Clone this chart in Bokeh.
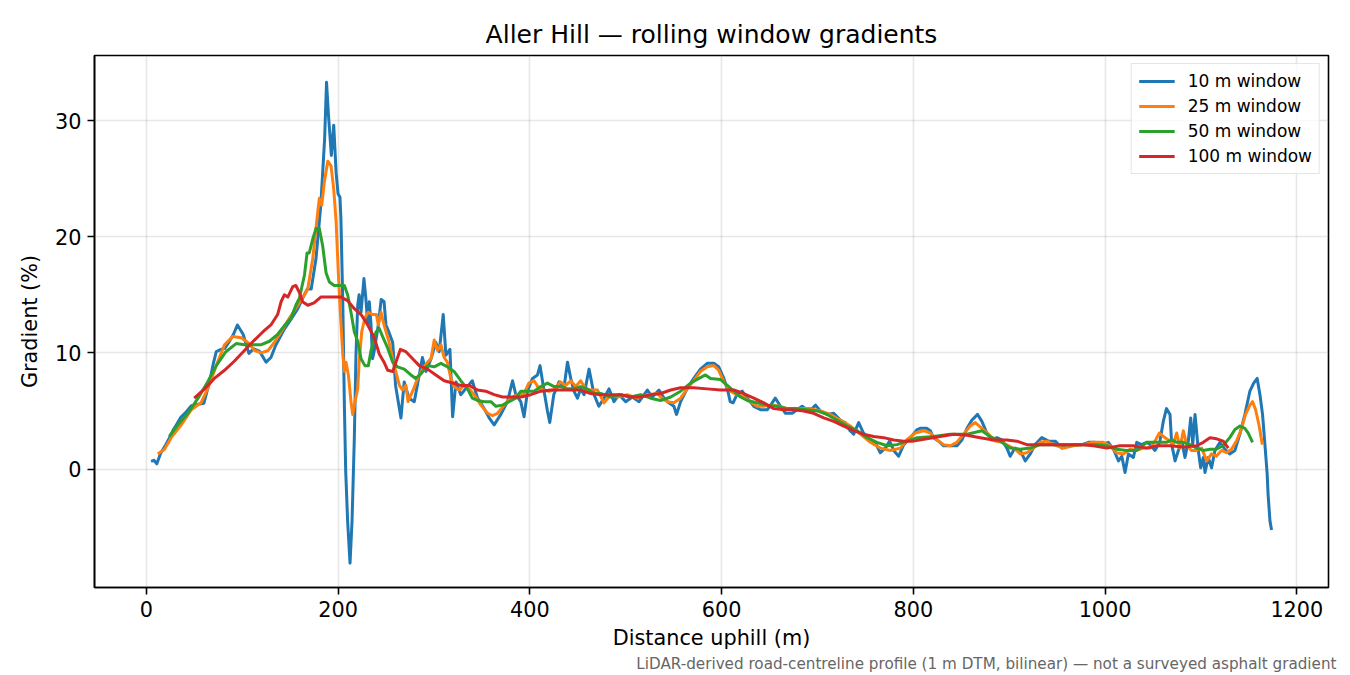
from bokeh.plotting import figure
from bokeh.models import Range1d, FixedTicker, Legend, LegendItem, Title
from bokeh.embed import file_html
from bokeh.resources import INLINE

# distances (m) and gradients (%)
d10 = [5, 8, 11, 15, 20, 24, 28, 31, 36, 41, 47, 53, 60, 66, 70, 73, 78, 82, 86, 91,
       95, 101, 107, 112, 118, 125, 130, 135, 144, 151, 158, 163, 168, 172, 177, 182, 186, 188, 190, 193,
       195.5, 198, 200, 202, 203, 205, 206.6, 208, 210, 212.5, 214.6, 217, 218.7, 220.5, 222, 224, 227, 229, 231, 232.6,
       234.4, 236, 238, 242, 245, 248, 250, 253, 257, 260, 265.6, 269, 274, 279.5, 284.7, 288, 291.7, 297, 302, 305.5,
       309.7, 312.5, 316.7, 319.5, 323, 328, 333, 340, 345.5, 352.4, 357.6, 362.8, 369.8, 376.7, 382, 385.4, 390.6, 394, 397.6, 402.8,
       408, 410.7, 414.9, 418.4, 420.8, 425, 430.5, 435.8, 439.3, 442.7, 446, 449.7, 453, 456.6, 461.8, 467, 472, 477.4, 482.6, 487.8,
       493, 500, 507, 514, 522.6, 527.8, 534.7, 540, 545, 550.3, 553, 557.3, 564, 571, 578, 585, 592, 597, 602.4, 606.6,
       609, 612, 616, 621.5, 626.8, 633.6, 640.6, 647.6, 652.8, 656, 661.5, 666.7, 673.6, 678.8, 684, 689, 694.5, 698, 703, 710,
       717, 724, 729, 734, 737.8, 743, 748, 755, 760, 765.6, 770.8, 775.3, 779.5, 784.7, 790, 797, 804, 807, 814, 817.7,
       821, 826.4, 831.6, 838.5, 845.5, 850.7, 856, 861, 867, 871.5, 876.7, 882, 887, 892.4, 897.6, 901, 906, 911.5, 916.7, 922,
       927, 934, 941, 948, 955, 962, 969, 975.7, 982.6, 989.6, 996.6, 1003.4, 1008.7, 1014, 1017.4, 1020.8, 1024.3, 1029.5, 1033, 1038,
       1043.4, 1047, 1052, 1057, 1060.7, 1064, 1067.7, 1069.5, 1073, 1076.4, 1080, 1083.3, 1086.8, 1089.3, 1091.4, 1093.8, 1097.2, 1099.7, 1102.4, 1104.2,
       1107.6, 1111, 1114.6, 1119.8, 1125, 1130, 1135.4, 1140.6, 1145.8, 1151, 1155, 1158.6, 1161.5, 1164.2, 1166.7, 1169, 1170, 1172, 1173.6]
g10 = [0.65, 0.75, 0.45, 1.35, 2.05, 2.65, 3.35, 3.75, 4.45, 4.85, 5.45, 5.55, 5.65, 7.5, 9.1, 10.1, 10.3, 10.4, 10.9, 11.6,
       12.4, 11.6, 9.95, 10.35, 10.15, 9.2, 9.6, 10.65, 12.05, 12.9, 13.8, 14.7, 15.5, 15.5, 18.1, 22.7, 28.4, 33.3, 30.5, 27.0,
       29.6, 25.5, 23.7, 23.4, 21.6, 14.1, 5.5, -0.2, -4.5, -8.1, -4.5, 2.7, 9.8, 14.1, 15.0, 13.5, 16.4, 14.7, 12.4, 14.4,
       12.4, 9.5, 10.3, 12.4, 14.6, 14.4, 12.4, 11.8, 10.9, 7.2, 4.4, 7.5, 6.1, 5.8, 8.1, 9.6, 8.4, 9.5, 10.9, 10.1,
       13.3, 9.8, 10.3, 4.5, 7.5, 6.4, 6.9, 7.6, 6.1, 5.2, 4.4, 3.8, 4.7, 5.8, 7.6, 6.4, 5.8, 4.5, 6.7, 7.8,
       8.1, 8.9, 6.7, 5.0, 4.0, 6.4, 7.5, 7.1, 9.2, 7.8, 6.7, 6.1, 6.9, 6.4, 8.6, 6.4, 5.4, 6.1, 6.9, 5.8,
       6.4, 5.8, 6.2, 5.8, 6.8, 6.2, 6.8, 6.1, 5.7, 5.4, 4.7, 5.8, 6.9, 7.8, 8.6, 9.1, 9.1, 8.8, 7.8, 6.7,
       5.8, 5.7, 6.4, 6.7, 6.1, 5.4, 5.1, 5.1, 5.7, 6.1, 5.4, 4.8, 4.8, 5.1, 5.4, 5.1, 5.2, 5.5, 5.0, 4.7,
       4.8, 4.2, 4.0, 3.3, 3.0, 4.0, 3.1, 2.4, 2.3, 1.4, 1.8, 2.4, 1.6, 1.1, 2.1, 2.7, 3.4, 3.5, 3.5, 3.3,
       2.7, 2.4, 2.0, 2.0, 2.0, 2.5, 3.5, 4.2, 4.7, 4.1, 3.1, 2.5, 2.7, 2.5, 1.8, 1.1, 1.8, 1.6, 0.7, 1.3,
       2.1, 2.7, 2.4, 2.4, 1.8, 2.0, 2.1, 2.1, 2.3, 2.3, 2.1, 2.3, 1.7, 0.7, 1.1, -0.3, 1.3, 1.0, 2.3, 2.1,
       2.3, 2.1, 1.6, 2.3, 4.1, 5.2, 4.7, 2.1, 0.7, 1.6, 2.4, 1.0, 2.4, 4.4, 2.1, 4.7, 1.6, 0.1, 1.0, -0.3,
       1.0, 0.1, 1.6, 2.3, 1.7, 1.3, 1.6, 3.0, 4.7, 6.7, 7.4, 7.8, 6.4, 4.7, 2.1, -0.4, -2.2, -4.5, -5.25]

d25 = [12, 19, 26, 36.5, 47, 57, 64, 73, 81.6, 90, 99, 106, 113, 120, 127, 133.6, 140.6, 149.3, 158, 165,
       168.4, 173.6, 178.8, 180.5, 183, 185.7, 189.3, 192.7, 195.5, 198, 200.3, 202.4, 205, 206.6, 208.3, 210.8, 213.5, 215.3, 217.7, 220.5,
       222, 224.7, 228, 231.6, 236, 240, 242, 244.8, 248, 253, 258.6, 264, 267.4, 270.8, 273, 277.8, 283, 288, 293.4, 297,
       300.3, 303.8, 307.3, 310.7, 314, 317.7, 321, 326.4, 331.6, 336.8, 342, 349, 356, 361, 366.4, 373.2, 380, 387, 394, 399,
       404.5, 409.7, 415, 420, 425, 432, 437.5, 442.7, 448, 453, 458.3, 463.5, 470.5, 477.4, 484.4, 491.3, 501.7, 512, 522.6, 533,
       536.5, 543.4, 550.3, 557.3, 564, 571, 578, 585, 592, 597, 602.4, 609, 616, 623, 630, 637, 644, 651, 661.5, 672,
       682.3, 692.7, 703, 713.5, 724, 734.4, 744.8, 755.2, 765.6, 776, 786.5, 793, 802, 810.7, 817.7, 824.7, 831.6, 838.5, 845.5, 852.4,
       859.4, 864.6, 871.5, 878.4, 885.4, 892.4, 899.3, 906.3, 911.5, 918.4, 925.3, 932.3, 939.3, 946, 956.6, 967, 977.4, 987.8, 998.2, 1005,
       1012, 1019, 1026, 1033, 1040, 1047, 1052, 1056.6, 1060.8, 1066, 1071, 1074.7, 1078, 1081.6, 1085, 1090, 1095.5, 1100.7, 1106, 1111,
       1116, 1121.5, 1126.7, 1131.8, 1137, 1142, 1146.5, 1151, 1153.8, 1157, 1160.7, 1164]
g25 = [1.3, 1.7, 2.7, 3.8, 5.1, 5.7, 6.9, 8.9, 10.7, 11.4, 11.3, 10.9, 10.2, 10.0, 10.2, 10.9, 11.8, 13.0, 14.1, 15.0,
       15.5, 18.1, 22.1, 23.3, 22.7, 24.7, 26.5, 26.1, 24.1, 21.3, 16.9, 13.5, 9.8, 8.4, 9.2, 8.1, 5.8, 4.7, 5.8, 6.9,
       9.2, 11.8, 13.0, 13.5, 13.3, 13.3, 12.4, 13.5, 12.4, 11.0, 8.9, 7.2, 6.8, 7.2, 5.8, 6.7, 7.8, 8.6, 9.2, 9.5,
       11.1, 10.2, 10.7, 9.6, 9.2, 7.8, 7.1, 6.8, 7.2, 6.9, 6.4, 5.5, 4.8, 4.6, 4.8, 5.5, 6.1, 6.4, 6.5, 7.4,
       7.6, 6.9, 6.8, 6.7, 6.8, 7.5, 7.2, 7.6, 7.1, 7.6, 6.9, 6.8, 6.8, 5.7, 6.4, 6.2, 6.4, 6.1, 6.4, 6.5,
       6.2, 5.8, 5.7, 6.1, 6.9, 7.6, 8.4, 8.8, 8.9, 8.5, 7.5, 6.7, 6.4, 6.2, 5.8, 5.4, 5.4, 5.5, 5.4, 5.1,
       5.2, 5.2, 5.0, 4.7, 4.2, 3.7, 3.0, 2.3, 1.8, 1.6, 1.8, 2.5, 3.1, 3.3, 3.1, 2.5, 2.1, 2.0, 2.3, 3.0,
       3.7, 4.0, 3.5, 3.0, 2.4, 2.3, 2.0, 1.7, 1.3, 1.4, 1.8, 2.3, 2.4, 2.1, 1.8, 2.0, 2.1, 2.3, 2.3, 2.0,
       1.4, 1.3, 1.7, 1.6, 1.8, 1.8, 2.4, 3.1, 2.8, 2.5, 2.1, 3.1, 1.8, 3.3, 2.1, 1.6, 1.6, 1.8, 0.7, 1.3,
       1.1, 1.6, 1.4, 1.7, 2.4, 3.4, 4.7, 5.5, 5.8, 5.1, 3.7, 2.1]

d50 = [24, 33, 43.4, 54, 64, 73, 83, 93.7, 102.4, 111, 120, 128.5, 137, 147.6, 151, 156, 159.7, 165, 167.7, 170,
       173.6, 177, 180.5, 184, 187.5, 191, 196, 203, 206.6, 210, 213.5, 217, 220.5, 224, 228, 231.6, 234.4, 239.6, 243, 246.5,
       251.8, 257, 262, 269, 276, 281, 286.5, 293.4, 300.3, 307.3, 314, 321, 328, 335, 340, 345.5, 352.4, 359.4, 364.6, 371.5,
       378.4, 385.4, 390.6, 397.6, 404.5, 411.5, 418.4, 425.3, 432, 439.3, 446, 453, 460, 467, 474, 484.4, 494.8, 505.2, 515.6, 526,
       536.5, 547, 557.3, 567.7, 576.4, 583.3, 588.5, 599, 606, 612.8, 619.8, 626.8, 637, 647.6, 658, 668.4, 678.8, 689, 699.7, 710,
       720.5, 731, 741.4, 751.8, 762, 772.6, 783, 793.4, 804, 821, 838.5, 856, 871.5, 880, 890.6, 901, 911.5, 922, 932.3, 946,
       960, 974, 987.8, 1001.7, 1012, 1022.6, 1033, 1043.4, 1057, 1064, 1069.5, 1074.7, 1081.6, 1088.5, 1095.5, 1102.4, 1109.4, 1116, 1123, 1130,
       1135.4, 1140.6, 1145.8, 1149.3, 1153.8]
g50 = [2.8, 3.8, 4.8, 6.1, 7.5, 8.9, 10.1, 10.8, 10.7, 10.7, 10.7, 11.0, 11.6, 12.7, 13.0, 14.1, 14.7, 16.7, 18.6, 18.6,
       19.8, 20.7, 20.7, 19.2, 16.9, 16.1, 15.8, 15.8, 15.8, 15.0, 13.5, 11.8, 11.0, 9.5, 8.9, 8.9, 10.2, 11.8, 12.1, 11.4,
       10.4, 9.2, 8.8, 8.6, 8.1, 7.8, 8.2, 8.9, 8.8, 9.1, 8.8, 8.4, 7.6, 6.9, 6.1, 5.9, 5.8, 5.8, 5.4, 5.5,
       5.8, 6.1, 6.7, 6.7, 6.7, 7.1, 7.4, 7.1, 7.1, 6.9, 6.9, 7.1, 6.9, 6.5, 6.5, 6.2, 6.4, 6.2, 6.4, 6.1,
       5.9, 6.2, 6.7, 7.4, 7.8, 8.1, 7.8, 7.7, 7.2, 6.7, 6.2, 5.9, 5.7, 5.5, 5.4, 5.2, 5.2, 5.1, 5.0, 4.7,
       4.2, 3.7, 3.3, 2.7, 2.3, 2.0, 2.1, 2.4, 2.7, 2.8, 3.0, 3.0, 3.3, 2.8, 2.4, 1.8, 1.7, 1.8, 2.1, 2.1,
       2.1, 2.1, 2.1, 2.0, 1.7, 1.6, 1.6, 2.3, 2.3, 2.3, 2.5, 2.3, 2.3, 2.1, 1.8, 1.6, 1.7, 1.7, 2.0, 2.7,
       3.4, 3.7, 3.5, 3.1, 2.3]

d100 = [50, 60.8, 71, 81.6, 92, 102.4, 112.8, 121.5, 130, 137, 140.6, 144, 147.6, 152.8, 156, 159.7, 163, 168.4, 175, 182,
        192.7, 203, 210, 217, 224, 231, 237.8, 243, 248, 251.8, 257, 260.4, 265, 270.8, 277.8, 284.7, 293.4, 302, 310.7, 319.5,
        328, 336.8, 345.5, 354, 362.8, 371.5, 380, 390.6, 401, 411.5, 421.9, 432.3, 442.7, 453, 463.5, 474, 484.4, 494.8, 505.2, 515.6,
        526, 536.5, 547, 557.3, 571, 585, 599, 612.8, 623, 633.6, 644, 654.5, 665, 675.3, 685.7, 696, 706.6, 717, 727.4, 737.8,
        748, 758.6, 769, 779.5, 790, 800, 814, 828, 842, 856, 869.8, 883.6, 897.6, 908, 918.4, 932.3, 946, 960, 974, 987.8,
        1001.7, 1015.6, 1029.5, 1043.4, 1054, 1067.7, 1081.6, 1095.5, 1102.4, 1109.4, 1116.3, 1123.2, 1128.5]
g100 = [6.1, 6.9, 7.8, 8.5, 9.3, 10.2, 11.1, 11.8, 12.4, 13.3, 14.4, 15.0, 14.8, 15.7, 15.8, 15.2, 14.4, 14.1, 14.3, 14.8,
        14.8, 14.8, 14.5, 13.8, 13.3, 12.4, 11.3, 9.9, 9.2, 8.5, 8.4, 9.2, 10.3, 10.1, 9.5, 8.9, 8.6, 8.1, 7.6, 7.4,
        7.2, 7.2, 6.8, 6.7, 6.4, 6.2, 6.2, 6.2, 6.4, 6.7, 6.8, 6.8, 6.8, 6.8, 6.5, 6.4, 6.4, 6.4, 6.2, 6.2,
        6.4, 6.5, 6.8, 7.0, 7.0, 6.9, 6.8, 6.8, 6.5, 6.1, 5.7, 5.2, 5.1, 5.1, 5.0, 4.8, 4.4, 4.1, 3.7, 3.3,
        3.0, 2.8, 2.7, 2.5, 2.4, 2.4, 2.6, 2.8, 3.0, 2.9, 2.7, 2.5, 2.5, 2.4, 2.1, 2.1, 2.1, 2.1, 2.1, 2.0,
        1.8, 2.0, 2.0, 1.8, 2.0, 2.0, 1.9, 2.0, 2.3, 2.7, 2.6, 2.4, 1.8]

x_ticks = [0, 200, 400, 600, 800, 1000, 1200]
y_ticks = [0, 10, 20, 30]

series = [
    ("10 m window", d10, g10, "#1f77b4"),
    ("25 m window", d25, g25, "#ff7f0e"),
    ("50 m window", d50, g50, "#2ca02c"),
    ("100 m window", d100, g100, "#d62728"),
]

FONT = "DejaVu Sans"

p = figure(frame_width=1234, frame_height=532,
           x_range=Range1d(-54, 1233), y_range=Range1d(-10.2, 35.6),
           output_backend="svg", toolbar_location=None,
           min_border_left=94, min_border_right=14,
           min_border_top=55, min_border_bottom=80)

p.title.text = "Aller Hill \u2014 rolling window gradients"
p.title.align = "center"
p.title.text_font = FONT
p.title.text_font_size = "25px"
p.title.text_font_style = "normal"
p.title.text_color = "black"
p.title.standoff = 14

items = []
for name, xs, ys, col in series:
    r = p.line(xs, ys, line_color=col, line_width=3, line_join="round")
    items.append(LegendItem(label=name, renderers=[r]))

legend = Legend(items=items, location="top_right", margin=8,
                padding=7, spacing=5, label_height=20, glyph_height=20,
                glyph_width=36, label_standoff=13,
                label_text_font=FONT, label_text_font_size="17px",
                label_text_color="black",
                border_line_color="#cccccc", border_line_width=1.5,
                background_fill_alpha=0.8)
p.add_layout(legend)

for ax in (p.xaxis, p.yaxis):
    ax.major_label_text_font = FONT
    ax.major_label_text_font_size = "20.8px"
    ax.major_label_text_color = "black"
    ax.axis_label_text_font = FONT
    ax.axis_label_text_font_size = "20.8px"
    ax.axis_label_text_font_style = "normal"
    ax.axis_label_text_color = "black"
    ax.axis_line_width = 1.6
    ax.major_tick_line_width = 1.6
    ax.major_tick_out = 7
    ax.major_tick_in = 0
    ax.minor_tick_line_color = None
    ax.major_label_standoff = 6

p.xaxis.axis_label = "Distance uphill (m)"
p.yaxis.axis_label = "Gradient (%)"
p.xaxis.ticker = FixedTicker(ticks=x_ticks)
p.yaxis.ticker = FixedTicker(ticks=y_ticks)
p.xaxis.axis_label_standoff = 6
p.yaxis.axis_label_standoff = 10

p.outline_line_color = "black"
p.outline_line_width = 1.6
p.outline_line_alpha = 1.0

p.grid.grid_line_color = "#b0b0b0"
p.grid.grid_line_alpha = 0.3
p.grid.grid_line_width = 1.6

note = Title(text="LiDAR-derived road-centreline profile (1 m DTM, bilinear) \u2014 not a surveyed asphalt gradient",
             align="right", text_font=FONT, text_font_size="15.2px",
             text_font_style="normal", text_color="#666666", standoff=0, offset=-8)
p.add_layout(note, "below")

p.background_fill_color = "white"
p.border_fill_color = "white"

open("out.html", "w").write(file_html(p, INLINE))
